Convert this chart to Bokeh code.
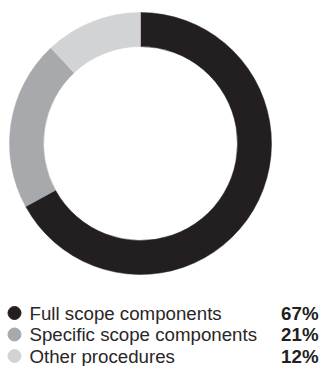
import math
from bokeh.plotting import figure
from bokeh.models import Range1d, ColumnDataSource
from bokeh.core.properties import value
from bokeh.embed import file_html
from bokeh.resources import INLINE

categories = ["Full scope components", "Specific scope components", "Other procedures"]
shares = [67, 21, 12]
palette = ["#231f20", "#a7a9ac", "#d1d3d4"]

W, H = 321, 366
p = figure(width=W, height=H, output_backend="svg", toolbar_location=None,
           x_range=Range1d(0, W), y_range=Range1d(0, H), min_border=0,
           outline_line_color=None)
p.axis.visible = False
p.grid.visible = False
p.background_fill_color = "white"
p.border_fill_color = "white"

# donut
cx, cy = 140, H - 143
total = sum(shares)
starts, ends = [], []
a = math.pi / 2
for s in shares:
    starts.append(a)
    a -= 2 * math.pi * s / total
    ends.append(a)
src = ColumnDataSource(dict(start=starts, end=ends, color=palette, cat=categories))
p.annular_wedge(x=cx, y=cy, inner_radius=97, outer_radius=131,
                inner_radius_units="screen", outer_radius_units="screen",
                start_angle="start", end_angle="end", direction="clock",
                fill_color="color", line_color="color", line_width=0.5, source=src)

# legend
top0 = 312.5
step = 21.5
ys = [H - (top0 + i * step) for i in range(len(categories))]
labels = [f"{v}%" for v in shares]
lsrc = ColumnDataSource(dict(y=ys, cat=categories, lab=labels, color=palette))
p.scatter(x=14, y="y", size=13, color="color", source=lsrc)
p.text(x=29, y="y", text="cat", source=lsrc, text_font=value("Liberation Sans"),
       text_font_size="18.7px", text_color="#2a2627", text_baseline="alphabetic")
p.text(x=318, y="y", text="lab", source=lsrc, text_font=value("Liberation Sans"),
       text_font_size="18.7px", text_font_style="bold", text_color="#231f20",
       text_align="right", text_baseline="alphabetic")

open("out.html", "w").write(file_html(p, INLINE))
